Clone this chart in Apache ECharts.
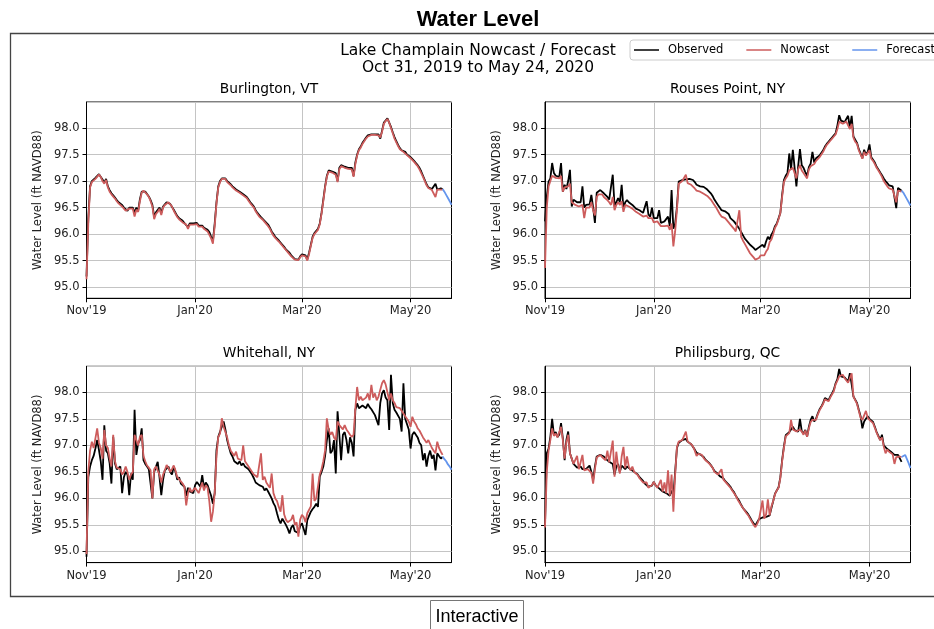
<!DOCTYPE html>
<html><head><meta charset="utf-8">
<script src="https://cdn.jsdelivr.net/npm/echarts@6/dist/echarts.min.js"></script>
<style>html,body{margin:0;padding:0;background:#fff}#c{width:934px;height:629px}</style>
</head><body><div id="c"></div><script>
// ---- axis domain ----
const startDate = Date.UTC(2019, 10, 1);   // Nov 1, 2019
const dayCount = 206;                       // through May 24, 2020
const tickDates = ['2019-11-01', '2020-01-01', '2020-03-01', '2020-05-01'];
const tickLabels = ["Nov'19", "Jan'20", "Mar'20", "May'20"];
const yMin = 94.79, yMax = 98.49;
const stationNames = ['Burlington, VT', 'Rouses Point, NY', 'Whitehall, NY', 'Philipsburg, QC'];
const forecastStart = 200;

// ---- daily values (ft NAVD88), Nov 1 .. May 19 ----
const burlingtonObserved = [
95.2,96.3,96.9,97.0,97.02,97.06,97.08,97.13,97.1,97.03,
96.97,97.04,96.9,96.83,96.77,96.73,96.69,96.64,96.6,96.57,
96.55,96.5,96.47,96.44,96.5,96.47,96.5,96.4,96.5,96.44,
96.66,96.8,96.83,96.8,96.77,96.71,96.64,96.55,96.33,96.41,
96.43,96.5,96.4,96.52,96.56,96.6,96.61,96.57,96.55,96.46,
96.4,96.34,96.3,96.28,96.25,96.21,96.2,96.13,96.2,96.23,
96.2,96.18,96.21,96.16,96.15,96.16,96.12,96.1,96.08,96.04,
95.95,95.87,96.2,96.6,96.9,97.0,97.05,97.08,97.05,97.0,
96.98,96.94,96.9,96.87,96.84,96.82,96.8,96.78,96.75,96.72,
96.7,96.65,96.6,96.56,96.52,96.45,96.4,96.36,96.32,96.3,
96.25,96.22,96.18,96.12,96.05,96.0,95.95,95.92,95.88,95.85,
95.8,95.76,95.71,95.68,95.65,95.6,95.57,95.53,95.5,95.52,
95.58,95.62,95.65,95.6,95.52,95.65,95.8,95.95,96.02,96.05,
96.1,96.2,96.4,96.65,96.9,97.1,97.2,97.22,97.18,97.2,
97.15,97.0,97.25,97.3,97.3,97.27,97.25,97.25,97.22,97.25,
97.1,97.35,97.5,97.6,97.65,97.72,97.77,97.82,97.86,97.87,
97.88,97.9,97.88,97.9,97.88,97.8,97.95,98.1,98.14,98.18,
98.1,98.02,97.92,97.83,97.75,97.68,97.62,97.58,97.56,97.55,
97.5,97.48,97.45,97.42,97.38,97.34,97.3,97.25,97.18,97.1,
97.02,96.94,96.88,96.86,96.85,96.86,96.95,96.84,96.85,96.86,
96.85];
const burlingtonNowcast = [
95.15,96.2,96.88,96.98,97.0,97.04,97.07,97.12,97.08,97.0,
96.95,97.02,96.88,96.8,96.75,96.72,96.67,96.62,96.58,96.55,
96.52,96.48,96.44,96.42,96.48,96.45,96.48,96.33,96.46,96.42,
96.62,96.78,96.82,96.79,96.75,96.7,96.62,96.52,96.28,96.38,
96.42,96.48,96.36,96.5,96.55,96.58,96.6,96.56,96.52,96.44,
96.38,96.32,96.28,96.26,96.22,96.2,96.18,96.1,96.18,96.2,
96.18,96.16,96.19,96.14,96.13,96.14,96.1,96.08,96.05,96.02,
95.92,95.82,96.15,96.58,96.88,96.98,97.04,97.07,97.04,96.98,
96.96,96.92,96.88,96.85,96.82,96.8,96.78,96.76,96.73,96.7,
96.68,96.63,96.58,96.54,96.5,96.43,96.38,96.33,96.3,96.27,
96.23,96.2,96.15,96.1,96.03,95.97,95.93,95.9,95.86,95.82,
95.78,95.74,95.7,95.66,95.63,95.58,95.55,95.52,95.49,95.51,
95.56,95.6,95.63,95.58,95.5,95.62,95.78,95.93,96.0,96.04,
96.08,96.18,96.38,96.62,96.88,97.08,97.18,97.2,97.16,97.18,
97.12,96.98,97.22,97.28,97.28,97.25,97.23,97.23,97.2,97.22,
97.08,97.32,97.48,97.58,97.63,97.7,97.75,97.8,97.84,97.86,
97.87,97.88,97.87,97.88,97.86,97.82,97.93,98.08,98.13,98.17,
98.1,98.0,97.9,97.8,97.73,97.66,97.6,97.57,97.55,97.53,
97.49,97.46,97.43,97.4,97.36,97.32,97.28,97.22,97.15,97.08,
97.0,96.92,96.87,96.85,96.83,96.84,96.7,96.84,96.82,96.84,
96.84];
const burlingtonForecast = [96.85,96.8,96.74,96.68,96.62,96.55];

const rousesObserved = [
96.24,96.7,96.99,97.05,97.34,97.15,97.1,97.12,97.08,97.34,
96.8,96.93,96.85,97.0,97.21,96.52,96.65,96.62,96.6,96.62,
96.6,96.9,96.5,96.55,96.58,96.56,96.74,96.5,96.21,96.78,
96.8,96.83,96.82,96.77,96.74,96.7,96.65,96.68,97.12,96.54,
96.6,96.68,96.6,96.93,96.48,96.6,96.64,96.6,96.58,96.55,
96.52,96.48,96.5,96.45,96.42,96.4,96.38,96.62,96.37,96.33,
96.5,96.3,96.27,96.3,96.45,96.21,96.22,96.24,96.21,96.33,
96.15,96.83,96.1,96.2,96.51,96.99,97.02,97.02,97.03,97.03,
97.05,97.04,97.05,97.02,96.98,96.93,96.92,96.9,96.9,96.89,
96.86,96.84,96.81,96.77,96.72,96.65,96.6,96.55,96.5,96.45,
96.43,96.43,96.4,96.38,96.3,96.27,96.24,96.21,96.15,96.1,
96.04,95.98,95.92,95.88,95.84,95.8,95.77,95.74,95.7,95.68,
95.75,95.77,95.8,95.75,95.86,95.95,95.9,95.99,96.05,96.15,
96.2,96.3,96.4,96.74,97.02,97.1,97.15,97.52,97.22,97.59,
97.25,96.9,97.28,97.6,97.3,97.25,97.17,97.1,97.26,97.33,
97.55,97.35,97.43,97.45,97.48,97.5,97.58,97.65,97.7,97.74,
97.78,97.82,97.86,97.9,98.05,98.24,98.14,98.12,98.11,98.14,
98.23,98.0,98.23,97.84,97.78,97.72,97.6,97.52,97.43,97.59,
97.5,97.55,97.69,97.45,97.4,97.35,97.27,97.22,97.16,97.11,
97.05,97.0,96.96,96.92,96.9,96.9,96.87,96.49,96.87,96.85,
96.82];
const rousesNowcast = [
95.36,96.5,96.9,97.0,97.1,97.08,97.06,97.08,97.05,97.1,
96.8,96.88,96.85,96.9,96.95,96.6,96.58,96.55,96.55,96.52,
96.5,96.55,96.3,96.5,96.52,96.5,96.6,96.45,96.35,96.7,
96.75,96.78,96.75,96.7,96.68,96.64,96.6,96.55,96.7,96.45,
96.55,96.6,96.55,96.62,96.42,96.55,96.58,96.52,96.5,96.48,
96.45,96.42,96.44,96.38,96.35,96.33,96.3,96.35,96.3,96.27,
96.3,96.22,96.2,96.24,96.26,96.15,96.17,96.15,96.12,96.16,
96.08,96.2,95.77,96.05,96.45,96.95,96.98,97.0,96.98,97.12,
96.96,96.95,96.93,96.9,96.86,96.82,96.8,96.8,96.78,96.76,
96.74,96.72,96.7,96.65,96.6,96.55,96.5,96.44,96.38,96.33,
96.3,96.3,96.27,96.22,96.18,96.15,96.1,96.05,96.02,96.45,
95.95,95.88,95.82,95.76,95.7,95.64,95.6,95.56,95.52,95.5,
95.55,95.6,95.62,95.6,95.67,95.72,95.85,95.9,96.0,96.12,
96.18,96.28,96.4,96.7,96.98,97.05,97.1,97.2,97.18,97.25,
97.15,97.05,97.22,97.3,97.2,97.15,97.1,97.05,97.22,97.28,
97.3,97.32,97.38,97.4,97.45,97.48,97.55,97.62,97.68,97.72,
97.76,97.8,97.84,97.88,97.98,98.12,98.1,98.08,98.08,98.12,
98.15,97.98,98.08,97.82,97.74,97.7,97.58,97.5,97.42,97.55,
97.48,97.5,97.58,97.42,97.38,97.32,97.25,97.2,97.14,97.08,
97.0,96.95,96.9,96.86,96.85,96.84,96.82,96.6,96.82,96.82,
96.8];
const rousesForecast = [96.82,96.78,96.72,96.66,96.6,96.54];

const whitehallObserved = [
94.9,96.4,96.6,96.72,96.8,96.94,97.1,96.91,96.7,96.35,
97.38,96.9,96.85,96.66,96.28,97.16,96.66,96.55,96.53,96.6,
96.1,96.4,96.5,96.45,96.06,96.47,96.35,97.67,96.82,97.04,
97.1,97.32,96.72,96.65,96.6,96.55,96.53,96.0,96.5,96.53,
96.69,96.4,96.06,96.35,96.53,96.55,96.6,96.5,96.45,96.6,
96.5,96.35,96.4,96.28,96.25,96.22,96.05,96.2,96.13,96.15,
96.1,96.25,96.31,96.28,96.22,96.44,96.2,96.3,96.25,96.15,
96.05,95.9,96.1,96.91,97.16,97.19,97.35,97.45,97.3,97.1,
96.97,96.85,96.79,96.7,96.72,96.65,96.7,96.62,96.66,96.6,
96.63,96.55,96.53,96.45,96.38,96.3,96.31,96.25,96.28,96.22,
96.15,96.19,96.13,96.1,96.0,95.91,95.85,95.72,95.6,95.53,
95.62,95.65,95.5,95.43,95.34,95.45,95.5,95.38,95.4,95.35,
95.48,95.53,95.5,95.31,95.59,95.62,95.75,95.8,95.84,95.9,
95.84,96.41,96.5,96.6,96.8,97.1,97.32,96.85,96.9,97.1,
96.47,97.64,97.2,96.72,97.2,97.25,97.1,96.85,97.15,97.05,
96.79,97.67,97.79,97.7,97.67,97.75,97.73,97.7,97.78,97.72,
97.68,97.7,97.57,97.6,97.38,97.8,97.98,98.04,97.9,97.85,
97.29,98.33,97.8,97.67,97.62,97.6,97.5,97.26,98.17,97.5,
97.48,97.3,96.94,97.2,97.25,97.2,97.15,97.05,97.0,96.72,
96.85,96.6,96.8,96.9,96.75,96.82,96.53,96.85,96.8,96.75,
96.78];
const whitehallNowcast = [
94.95,96.5,96.9,97.07,96.95,97.13,97.32,97.05,96.95,96.75,
97.29,97.0,96.95,96.75,96.6,97.2,96.7,96.58,96.6,96.55,
96.45,96.5,96.6,96.5,96.35,96.45,96.5,97.2,97.1,97.0,
97.16,97.2,96.8,96.7,96.62,96.58,96.53,96.0,96.55,96.6,
96.6,96.45,96.3,96.45,96.53,96.63,96.58,96.5,96.55,96.62,
96.52,96.4,96.42,96.32,96.28,96.22,95.87,96.1,96.2,96.12,
96.15,96.2,96.18,96.1,96.2,96.3,96.15,96.25,96.2,95.94,
95.56,95.75,96.1,96.8,97.16,97.22,97.51,97.35,97.38,97.15,
97.0,96.9,96.85,96.8,96.88,96.75,96.78,96.72,97.0,96.7,
96.68,96.6,96.58,96.5,96.45,96.42,96.4,96.38,96.85,96.35,
96.41,96.3,96.25,96.2,96.47,96.1,96.0,95.95,95.84,95.75,
96.06,95.7,95.6,95.55,95.53,95.6,95.69,95.5,95.55,95.28,
95.6,95.69,95.65,95.55,95.72,95.75,95.85,96.47,95.95,96.0,
96.0,96.45,96.55,96.7,96.9,97.51,97.3,97.2,97.25,97.15,
97.1,97.45,97.38,97.35,97.3,97.38,97.3,97.25,97.2,97.16,
97.2,97.7,98.1,97.85,97.92,97.85,97.88,97.9,97.98,97.85,
98.14,97.9,97.98,97.85,97.92,98.05,98.17,98.23,98.15,98.0,
97.85,97.98,97.85,97.8,97.72,97.75,97.7,97.65,97.6,97.55,
97.58,97.45,97.35,97.54,97.45,97.4,97.32,97.28,97.25,97.15,
97.1,97.05,97.1,97.1,96.95,96.9,96.85,97.07,96.95,96.88,
96.82];
const whitehallForecast = [96.79,96.74,96.7,96.64,96.6,96.54];

const philipsburgObserved = [
95.5,96.85,96.94,97.16,97.5,97.2,97.25,97.16,97.2,97.42,
97.13,96.72,97.1,97.26,96.85,96.75,96.65,96.63,96.58,96.57,
96.6,96.55,96.53,96.55,96.57,96.62,96.5,96.35,96.6,96.79,
96.8,96.82,96.8,96.79,96.75,96.72,96.69,96.7,96.65,96.45,
96.6,96.65,96.5,96.62,96.6,96.55,96.6,96.62,96.55,96.53,
96.5,96.48,96.45,96.4,96.38,96.33,96.28,96.27,96.22,96.19,
96.24,96.31,96.25,96.22,96.19,96.2,96.13,96.12,96.1,96.08,
96.05,96.15,96.05,96.5,96.95,97.05,97.07,97.1,97.1,97.12,
97.07,97.05,97.02,97.0,96.92,96.86,96.84,96.83,96.82,96.78,
96.73,96.7,96.67,96.63,96.58,96.52,96.5,96.46,96.42,96.44,
96.38,96.33,96.3,96.26,96.22,96.16,96.12,96.05,96.0,95.95,
95.88,95.82,95.78,95.74,95.7,95.64,95.58,95.53,95.49,95.55,
95.61,95.62,95.64,95.63,95.65,95.66,95.68,95.82,95.95,96.09,
96.15,96.21,96.4,96.72,96.98,97.19,97.22,97.25,97.3,97.35,
97.29,97.28,97.26,97.5,97.27,97.22,97.29,97.16,97.35,97.48,
97.55,97.45,97.5,97.6,97.68,97.73,97.8,97.89,97.87,97.85,
97.92,97.98,98.05,98.17,98.25,98.44,98.3,98.33,98.28,98.27,
98.2,98.36,98.15,97.92,97.92,97.8,97.67,97.55,97.32,97.45,
97.5,97.55,97.5,97.47,97.44,97.35,97.25,97.18,97.1,97.2,
97.0,96.97,96.93,96.9,96.88,96.85,96.82,96.8,96.82,96.81,
96.69];
const philipsburgNowcast = [
95.45,96.5,96.9,97.1,97.32,97.18,97.22,97.15,97.18,97.35,
97.1,96.75,97.05,97.2,96.85,96.75,96.65,96.62,96.8,96.55,
96.58,96.82,96.53,96.52,96.55,96.58,96.48,96.28,96.55,96.77,
96.79,96.82,96.78,96.77,96.72,96.9,96.68,96.7,97.09,96.41,
96.88,96.6,96.47,96.79,96.97,96.57,96.79,96.6,96.53,96.6,
96.5,96.52,96.44,96.38,96.4,96.3,96.28,96.3,96.2,96.19,
96.25,96.31,96.25,96.2,96.19,96.35,96.13,96.3,96.1,96.53,
96.05,96.45,95.75,96.45,96.97,97.07,97.06,97.1,97.12,97.26,
97.07,97.05,97.02,96.98,96.9,96.8,96.84,96.82,96.82,96.76,
96.72,96.7,96.66,96.63,96.58,96.5,96.5,96.45,96.42,96.55,
96.36,96.33,96.28,96.25,96.2,96.15,96.12,96.05,95.98,95.95,
95.87,95.82,95.77,95.72,95.68,95.62,95.56,95.5,95.46,95.52,
95.6,95.62,95.96,95.62,95.7,95.98,95.68,95.85,95.95,96.08,
96.15,96.2,96.38,96.7,96.95,97.17,97.2,97.23,97.48,97.3,
97.29,97.26,97.25,97.3,97.26,97.2,97.28,97.16,97.32,97.44,
97.48,97.45,97.48,97.58,97.66,97.72,97.78,97.87,97.85,97.83,
97.9,97.96,98.02,98.15,98.22,98.3,98.28,98.33,98.27,98.25,
98.18,98.2,98.36,97.92,97.9,97.78,97.65,97.52,97.48,97.45,
97.65,97.52,97.48,97.45,97.42,97.33,97.24,97.16,97.1,97.15,
96.98,96.85,96.92,96.88,96.86,96.83,96.65,96.78,96.8,96.79,
96.78];
const philipsburgForecast = [96.78,96.8,96.82,96.74,96.66,96.57];

const observedSets = [burlingtonObserved, rousesObserved, whitehallObserved, philipsburgObserved];
const nowcastSets = [burlingtonNowcast, rousesNowcast, whitehallNowcast, philipsburgNowcast];
const forecastSets = [burlingtonForecast, rousesForecast, whitehallForecast, philipsburgForecast];

// ---- build ----
const dates = [];
for (let i = 0; i < dayCount; i++) dates.push(new Date(startDate + i * 86400000).toISOString().slice(0, 10));

const FONT = '"DejaVu Sans", sans-serif';
const gridPos = [
  {left: 86.5, top: 102, width: 365, height: 196.3},
  {left: 545, top: 102, width: 365.5, height: 196.3},
  {left: 86.5, top: 366.3, width: 365, height: 196.3},
  {left: 545, top: 366.3, width: 365.5, height: 196.3}
];
const isTick = (i, v) => tickDates.indexOf(v) >= 0;
const LW = 1.8;

const grids = [], xAxes = [], yAxes = [], series = [];
gridPos.forEach((g, k) => {
  grids.push(Object.assign({show: true, borderColor: '#000', borderWidth: 1, containLabel: false}, g));
  xAxes.push({
    type: 'category', gridIndex: k, data: dates, boundaryGap: false,
    axisLine: {lineStyle: {color: '#000', width: 1}},
    axisTick: {interval: isTick, length: 4, lineStyle: {color: '#000'}},
    splitLine: {show: true, interval: isTick, lineStyle: {color: '#c4c4c4', width: 1}},
    axisLabel: {interval: isTick, formatter: v => tickLabels[tickDates.indexOf(v)] || '',
      color: '#222', fontSize: 11.5, fontFamily: FONT, margin: 7}
  });
  yAxes.push({
    type: 'value', gridIndex: k, min: yMin, max: yMax, splitNumber: 7,
    name: 'Water Level (ft NAVD88)', nameLocation: 'middle', nameGap: 42,
    nameTextStyle: {fontSize: 11.5, fontFamily: FONT, color: '#222'},
    axisLine: {show: true, lineStyle: {color: '#000', width: 1}},
    axisTick: {show: true, length: 4, lineStyle: {color: '#000'}},
    splitLine: {show: true, lineStyle: {color: '#c4c4c4', width: 1}},
    axisLabel: {showMinLabel: false, showMaxLabel: false, color: '#222', fontSize: 11.5, fontFamily: FONT, margin: 7,
      formatter: v => (Math.abs(v * 2 - Math.round(v * 2)) < 1e-6 ? v.toFixed(1) : '')}
  });
  const common = {type: 'line', xAxisIndex: k, yAxisIndex: k, symbol: 'none', showSymbol: false, animation: false, silent: true};
  series.push(Object.assign({}, common, {name: 'Observed', data: observedSets[k], lineStyle: {color: '#000', width: LW}, itemStyle: {color: '#000'}}));
  series.push(Object.assign({}, common, {name: 'Nowcast', data: nowcastSets[k], lineStyle: {color: '#cd5c5c', width: LW}, itemStyle: {color: '#cd5c5c'}}));
  series.push(Object.assign({}, common, {name: 'Forecast', data: forecastSets[k].map((v, i) => [dates[forecastStart + i], v]), lineStyle: {color: '#6495ed', width: LW}, itemStyle: {color: '#6495ed'}}));
});

const txt = (x, y, text, font, extra) => Object.assign({
  type: 'text', x: x, y: y, silent: true,
  style: {text: text, font: font, fill: '#000', textAlign: 'center', textVerticalAlign: 'middle', align: 'center', verticalAlign: 'middle'}
}, extra || {});

const graphic = [
  {type: 'rect', silent: true, shape: {x: 10.5, y: 33.5, width: 940, height: 563}, style: {fill: 'none', stroke: '#444', lineWidth: 1.3}},
  txt(478, 20, 'Water Level', 'bold 22px "Liberation Sans", Arial, sans-serif'),
  txt(478, 51, 'Lake Champlain Nowcast / Forecast', '15.5px ' + FONT),
  txt(478, 67.5, 'Oct 31, 2019 to May 24, 2020', '15.5px ' + FONT),
  txt(269, 89.5, stationNames[0], '13.8px ' + FONT),
  txt(727.5, 89.5, stationNames[1], '13.8px ' + FONT),
  txt(269, 353.5, stationNames[2], '13.8px ' + FONT),
  txt(727.5, 353.5, stationNames[3], '13.8px ' + FONT),
  {type: 'rect', silent: true, shape: {x: 430.5, y: 600.5, width: 93, height: 40}, style: {fill: '#fff', stroke: '#767676', lineWidth: 1}},
  txt(477, 617.5, 'Interactive', '18px "Liberation Sans", Arial, sans-serif')
];

const chart = echarts.init(document.getElementById('c'), null, {renderer: 'canvas'});
chart.setOption({
  backgroundColor: '#fff',
  animation: false,
  grid: grids, xAxis: xAxes, yAxis: yAxes, series: series,
  legend: {
    data: ['Observed', 'Nowcast', 'Forecast'], left: 630, top: 40, width: 420, orient: 'horizontal',
    icon: 'rect', itemWidth: 25, itemHeight: 1.5, itemGap: 23,
    padding: [4, 10, 4, 4], borderColor: '#ccc', borderWidth: 1, borderRadius: 3,
    selectedMode: false,
    textStyle: {fontSize: 11.5, fontFamily: FONT, color: '#000', padding: [0, 0, 0, 4]}
  },
  graphic: graphic
});
</script></body></html>
